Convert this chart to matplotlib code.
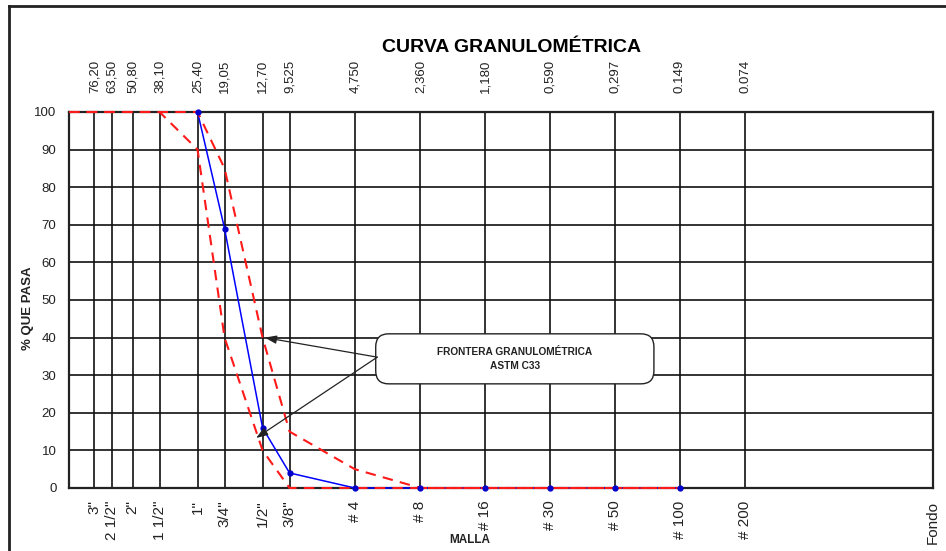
import matplotlib
matplotlib.use("Agg")
import matplotlib.pyplot as plt
from matplotlib.ticker import NullLocator, FixedLocator
from matplotlib.patches import FancyBboxPatch
from matplotlib.lines import Line2D

# ---------------- data ----------------
sieve_mm = [76.2, 63.5, 50.8, 38.1, 25.4, 19.05, 12.7, 9.525, 4.75, 2.36, 1.18, 0.59, 0.297, 0.149, 0.074]
top_labels = ["76,20", "63,50", "50,80", "38,10", "25,40", "19,05", "12,70", "9,525",
              "4,750", "2,360", "1,180", "0,590", "0,297", "0.149", "0.074"]
fondo_mm = 0.01
bottom_labels = ['3"', '2 1/2"', '2"', '1 1/2"', '1"', '3/4"', '1/2"', '3/8"',
                 '# 4', '# 8', '# 16', '# 30', '# 50', '# 100', '# 200', 'Fondo']

# sample gradation (blue)
sample_mm = [25.4, 19.05, 12.7, 9.525, 4.75, 2.36, 1.18, 0.59, 0.297, 0.149]
sample_pass = [100, 69, 16, 4, 0, 0, 0, 0, 0, 0]

# ASTM C33 limits (red dashed)
limit_mm = [100.0, 76.2, 63.5, 50.8, 38.1, 25.4, 19.05, 12.7, 9.525, 4.75, 2.36, 1.18, 0.59, 0.297, 0.149]
upper_pass = [100, 100, 100, 100, 100, 100, 85, 40, 15, 5, 0, 0, 0, 0, 0]
lower_pass = [100, 100, 100, 100, 100, 90, 40, 10, 0, 0, 0, 0, 0, 0, 0]

y_ticks = [0, 10, 20, 30, 40, 50, 60, 70, 80, 90, 100]

arial = "Liberation Sans"

# ---------------- figure ----------------
W, H = 946, 551
fig = plt.figure(figsize=(W / 100, H / 100), dpi=100)
L, R, T, B = 69, 933, 112, 488
ax = fig.add_axes([L / W, 1 - B / H, (R - L) / W, (B - T) / H])

ax.set_xscale("log")
ax.set_xlim(100, 0.01)
ax.set_ylim(0, 100)

# grid
ax.set_xticks(sieve_mm + [fondo_mm])
ax.xaxis.set_minor_locator(NullLocator())
ax.set_xticklabels(bottom_labels, rotation=90, fontfamily=arial, fontsize=11,
                   va="top", ha="center", color="#222222")
ax.set_yticks(y_ticks)
ax.set_yticklabels([str(v) for v in y_ticks], fontfamily=arial, fontsize=9.5, color="#222222")
ax.tick_params(axis="both", length=0)
ax.tick_params(axis="x", pad=9)
ax.tick_params(axis="y", pad=9)
ax.grid(True, color="#111111", lw=1.2, zorder=1)
for s in ax.spines.values():
    s.set_linewidth(1.6)
    s.set_color("#222222")

# top axis with mm sizes
sec = ax.secondary_xaxis("top")
sec.xaxis.set_major_locator(FixedLocator(sieve_mm))
sec.xaxis.set_minor_locator(NullLocator())
sec.set_xticklabels(top_labels, rotation=90, fontfamily=arial, fontsize=9.5, va="bottom",
                    color="#222222")
sec.tick_params(axis="x", length=0, pad=14)
sec.spines["top"].set_visible(False)

# curves
ax.plot(sample_mm, sample_pass, color="#0000FF", lw=1.1, zorder=3, clip_on=False)
ax.plot(limit_mm, upper_pass, color="#FF1A1A", lw=1.5, ls=(0, (5, 3.5)), zorder=4, clip_on=False)
ax.plot(limit_mm, lower_pass, color="#FF1A1A", lw=1.5, ls=(0, (5, 3.5)), zorder=4, clip_on=False)
ax.plot(sample_mm, sample_pass, ls="none", marker="o", ms=3.5, color="#0000CC", zorder=5, clip_on=False)

# annotation box
box = FancyBboxPatch((0.355, 0.277), 0.322, 0.133, boxstyle="round,pad=0,rounding_size=0.015",
                     transform=ax.transAxes, facecolor="white", edgecolor="#222222", lw=1.0,
                     zorder=6, mutation_aspect=2.3)
ax.add_patch(box)
ax.text(0.516, 0.343, "FRONTERA GRANULOMÉTRICA\nASTM C33", transform=ax.transAxes,
        ha="center", va="center", fontfamily=arial, fontweight="bold", fontsize=7.3,
        linespacing=1.6, zorder=7, color="#222222")
tail = (3.74, 34.8)
for head in [(12.4, 40), (13.6, 13.3)]:
    ax.annotate("", xy=head, xytext=tail, xycoords="data", textcoords="data",
                arrowprops=dict(arrowstyle="-|>,head_length=0.7,head_width=0.25",
                                color="#222222", lw=0.9, shrinkA=0, shrinkB=0),
                zorder=6)

# titles / labels
fig.text(512 / W, 1 - 48 / H, "CURVA GRANULOMÉTRICA", ha="center", va="center",
         fontfamily=arial, fontweight="bold", fontsize=14)
fig.text(28 / W, 1 - 308 / H, "% QUE PASA", rotation=90, ha="center", va="center",
         fontfamily=arial, fontweight="bold", fontsize=9.5, color="#222222")
fig.text(470 / W, 1 - 540 / H, "MALLA", ha="center", va="center",
         fontfamily=arial, fontweight="bold", fontsize=8.5, color="#222222")

# outer border
fig.add_artist(Line2D([9 / W, 9 / W], [0, 1 - 6 / H], transform=fig.transFigure,
                      color="#222222", lw=2))
fig.add_artist(Line2D([9 / W, 1], [1 - 6 / H, 1 - 6 / H], transform=fig.transFigure,
                      color="#222222", lw=2))

fig.savefig("out.png", dpi=100)
